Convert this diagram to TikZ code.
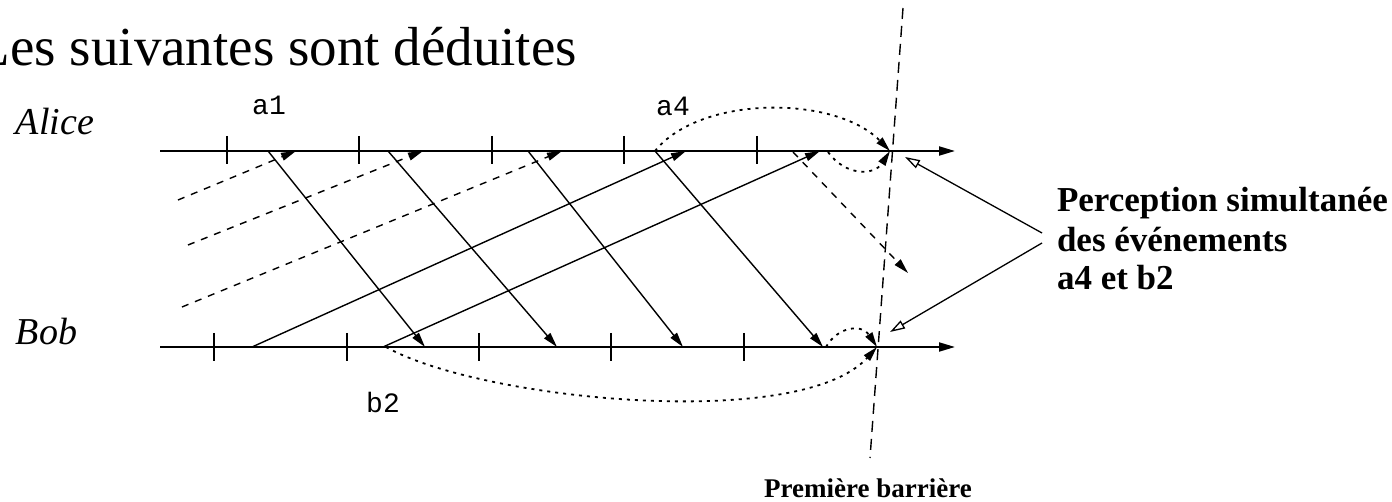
\documentclass[tikz,border=0pt]{standalone}
\usepackage{fontspec}
\setmainfont{Liberation Serif}
\newfontfamily\labmono{Liberation Mono}
\usetikzlibrary{arrows.meta}
\begin{document}
\begin{tikzpicture}[x=1pt,y=-1pt,
  axisline/.style={line width=2pt, -{Triangle[length=16pt,width=9pt]}},
  tickmark/.style={line width=1.5pt},
  msg/.style={line width=1.4pt, -{Triangle[length=15pt,width=8pt]}},
  dmsg/.style={msg, dash pattern=on 7pt off 7pt},
  dotarr/.style={line width=1.8pt, dash pattern=on 3pt off 5pt, -{Triangle[length=15pt,width=8pt]}},
  barrier/.style={line width=1.4pt, dash pattern=on 11pt off 7pt},
  note/.style={line width=1.3pt, -{Triangle[open,length=15pt,width=9pt]}},
  lbl/.style={inner sep=0pt, outer sep=0pt},
]
\clip (0,0) rectangle (1392,502);
\fill[white] (0,0) rectangle (1392,502);

% time lines
\coordinate (As) at (160,151); \coordinate (Ae) at (955,151);
\coordinate (Bs) at (160,347); \coordinate (Be) at (955,347);
\draw[axisline] (As) -- (Ae);
\draw[axisline] (Bs) -- (Be);
\foreach \x in {227,359,492,624,757} \draw[tickmark] (\x,136) -- (\x,164);
\foreach \x in {214,347,479,611,744} \draw[tickmark] (\x,333) -- (\x,361);

% barrier
\coordinate (Xt) at (903,8); \coordinate (Xb) at (870,458);
\coordinate (XA) at (890,151); \coordinate (XB) at (877,347);
\draw[barrier] (Xt) -- (Xb);

% messages Alice -> Bob
\coordinate (d1s) at (268,151); \coordinate (d1e) at (425,347);
\coordinate (d2s) at (388,151); \coordinate (d2e) at (557,347);
\coordinate (d3s) at (528,151); \coordinate (d3e) at (683,347);
\coordinate (d4s) at (655,151); \coordinate (d4e) at (823,347);
\draw[msg] (d1s) -- (d1e);
\draw[msg] (d2s) -- (d2e);
\draw[msg] (d3s) -- (d3e);
\draw[msg] (d4s) -- (d4e);

% messages Bob -> Alice
\coordinate (r1s) at (252,347); \coordinate (r1e) at (686,151);
\coordinate (r2s) at (383,347); \coordinate (r2e) at (820,151);
\draw[msg] (r1s) -- (r1e);
\draw[msg] (r2s) -- (r2e);

% dashed incoming messages
\coordinate (s1s) at (178,200); \coordinate (s1e) at (296,151);
\coordinate (s2s) at (188,245); \coordinate (s2e) at (423,151);
\coordinate (s3s) at (182,307); \coordinate (s3e) at (562,151);
\draw[dmsg] (s1s) -- (s1e);
\draw[dmsg] (s2s) -- (s2e);
\draw[dmsg] (s3s) -- (s3e);

% dashed outgoing message
\coordinate (o1s) at (793,152); \coordinate (o1e) at (908,273);
\draw[dmsg] (o1s) -- (o1e);

% dotted causal curves
\coordinate (c1s) at (655,151);
\coordinate (c2s) at (828,152);
\coordinate (c3s) at (826,347);
\coordinate (c4s) at (386,347);
\draw[dotarr] (c1s) .. controls (700,95) and (835,95) .. (XA);
\draw[dotarr] (c2s) .. controls (845,176) and (874,176) .. (XA);
\draw[dotarr] (c3s) .. controls (838,326) and (862,324) .. (XB);
\draw[dotarr] (c4s) .. controls (480,400) and (800,432) .. (XB);

% annotation arrows
\coordinate (n1) at (1042,233); \coordinate (n1e) at (905,157);
\coordinate (n2) at (1042,243); \coordinate (n2e) at (890,332);
\draw[note] (n1) -- (n1e);
\draw[note] (n2) -- (n2e);

% texts
\node[lbl, anchor=base east, font=\fontsize{55}{62}\selectfont] (title) at (577,66) {Les suivantes sont déduites};
\node[lbl, anchor=base west, font=\fontsize{38}{44}\selectfont\itshape] (alice) at (16,135) {Alice};
\node[lbl, anchor=base west, font=\fontsize{38}{44}\selectfont\itshape] (bob) at (16,345) {Bob};
\node[lbl, anchor=base, font=\labmono\fontsize{28}{30}\selectfont] (la1) at (269,115) {a1};
\node[lbl, anchor=base, font=\labmono\fontsize{28}{30}\selectfont] (la4) at (673,116) {a4};
\node[lbl, anchor=base, font=\labmono\fontsize{28}{30}\selectfont] (lb2) at (383,412) {b2};
\node[lbl, anchor=base west, font=\fontsize{35}{39}\selectfont\bfseries] (p1) at (1057,212) {Perception simultanée};
\node[lbl, anchor=base west, font=\fontsize{35}{39}\selectfont\bfseries] (p2) at (1057,252) {des événements};
\node[lbl, anchor=base west, font=\fontsize{35}{39}\selectfont\bfseries] (p3) at (1057,290) {a4 et b2};
\node[lbl, anchor=base, font=\fontsize{27}{30}\selectfont\bfseries] (pb) at (868,497) {Première barrière};
\end{tikzpicture}
\end{document}
